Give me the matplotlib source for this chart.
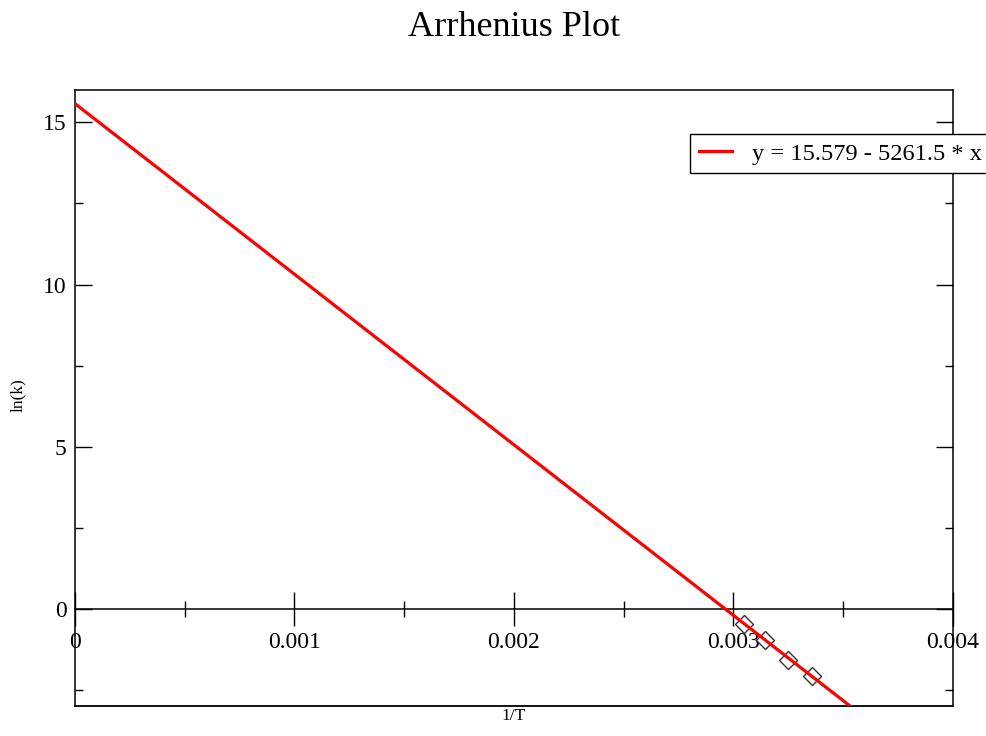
#!/usr/bin/env python3
"""Arrhenius plot: ln(k) vs 1/T with linear fit, Grace-like styling."""
import matplotlib
import numpy as np

matplotlib.use("Agg")
import matplotlib.pyplot as plt  # noqa: E402
from matplotlib.ticker import MultipleLocator  # noqa: E402

# measured points (1/T in 1/K, ln k)
inv_T = [0.003049, 0.003145, 0.003247, 0.003356]
ln_k = [-0.47, -0.96, -1.57, -2.07]

# fit parameters from the legend
intercept = 15.579
slope = -5261.5
fit_x = np.array([0.0, 0.004])

plt.rcParams["font.family"] = ["Liberation Serif", "DejaVu Serif"]

fig = plt.figure(figsize=(9.87, 7.36), dpi=100)
W, H = 987, 736
x0, x1, y0, y1 = 75, 953, 90, 706
ax = fig.add_axes([x0 / W, 1 - y1 / H, (x1 - x0) / W, (y1 - y0) / H])

ax.plot(inv_T, ln_k, ls="none", marker="D", ms=9, mfc="white", mec="#333333", mew=1.0, zorder=3)
ax.plot(fit_x, intercept + slope * fit_x, c="red", lw=2.3, zorder=4,
        label=f"y = {intercept} - {abs(slope)} * x")

ax.set_xlim(0, 0.004)
ax.set_ylim(-3, 16)

for s in ax.spines.values():
    s.set_linewidth(1.1)
    s.set_color("black")
# x axis sits on y=0, the box bottom is drawn separately
ax.spines["bottom"].set_position(("data", 0))
ax.plot([0, 1], [0, 0], transform=ax.transAxes, c="black", lw=1.3, clip_on=False)

ax.xaxis.set_major_locator(MultipleLocator(0.001))
ax.xaxis.set_minor_locator(MultipleLocator(0.0005))
ax.yaxis.set_major_locator(MultipleLocator(5))
ax.yaxis.set_minor_locator(MultipleLocator(2.5))
ax.xaxis.set_major_formatter(matplotlib.ticker.FuncFormatter(lambda v, p: "0" if v == 0 else f"{v:g}"))

ax.tick_params(axis="x", which="major", direction="inout", length=25, width=1.0, pad=4, labelsize=17)
ax.tick_params(axis="x", which="minor", direction="inout", length=12, width=1.0)
ax.tick_params(axis="y", which="major", direction="in", length=12, width=1.0, pad=6,
               labelsize=17, right=True)
ax.tick_params(axis="y", which="minor", direction="in", length=6, width=1.0, right=True)

fig.text(514 / W, 1 - 27 / H, "Arrhenius Plot", ha="center", va="center", fontsize=26)
fig.text(514 / W, 1 - 716 / H, "1/T", ha="center", va="center", fontsize=12.5)
fig.text(18 / W, 1 - 395 / H, "ln(k)", ha="center", va="center", rotation=90, fontsize=12.5)

leg = fig.legend(loc="upper left", bbox_to_anchor=(690 / W, 1 - 134 / H), borderaxespad=0,
                 fontsize=17.6, handlelength=1.35, handletextpad=0.85, borderpad=0.35,
                 fancybox=False, framealpha=1, edgecolor="black")
leg.get_frame().set_linewidth(1.0)

fig.savefig("out.png", dpi=100)
